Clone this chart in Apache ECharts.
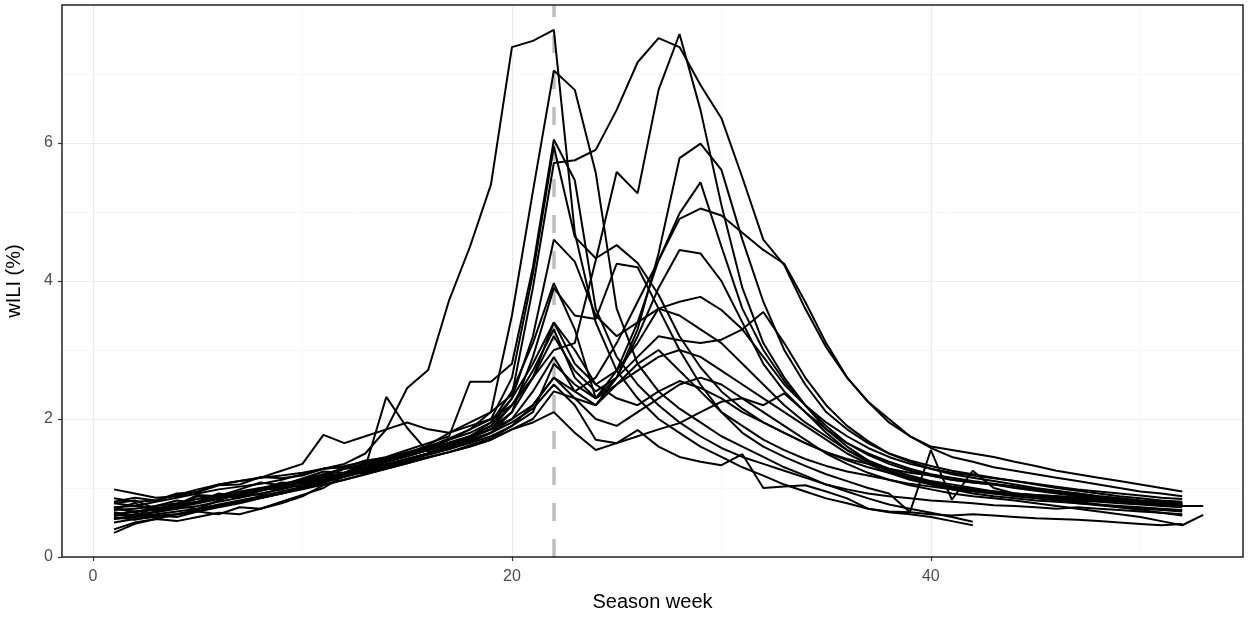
<!DOCTYPE html>
<html>
<head>
<meta charset="utf-8">
<script src="https://cdn.jsdelivr.net/npm/echarts@6/dist/echarts.min.js"></script>
<style>html,body{margin:0;background:#fff}#main{width:1260px;height:617px}</style>
</head>
<body>
<div id="main"></div>
<script>
// wILI (%) par semaine de saison, une liste par saison (semaine 1 = premier element)
var s01 = [0.78,0.74,0.80,0.86,0.92,0.98,1.02,1.06,1.12,1.20,1.28,1.35,1.50,1.85,2.45,2.71,3.72,4.50,5.40,7.39,7.48,7.64,
  4.70,3.40,2.70,2.30,2.00,1.80,1.60,1.45,1.30,1.18,1.05,0.95,0.85,0.78,0.70,0.65,0.62,0.58,0.52,0.46];
var s02 = [0.62,0.66,0.70,0.75,0.80,0.88,0.92,0.98,1.05,1.12,1.20,1.28,1.36,1.42,1.50,1.58,1.70,1.85,2.10,3.50,5.30,7.05,
  6.77,5.57,3.60,2.80,2.40,2.15,1.95,1.75,1.60,1.45,1.30,1.18,1.05,0.95,0.85,0.76,0.70,0.64,0.58,0.51];
var s03 = [0.70,0.78,0.66,0.75,0.88,0.84,0.92,1.00,0.98,1.12,1.16,1.28,1.30,1.40,1.48,1.55,1.62,1.75,1.90,2.20,2.60,
  3.00,3.10,4.30,5.58,5.27,6.77,7.58,6.48,5.10,3.90,3.10,2.60,2.20,1.85,1.60,1.40,1.25,1.15,1.05,0.98,
  0.92,0.88,0.85,0.82,0.80,0.78,0.76,0.74,0.72,0.70,0.68];
var s04 = [0.55,0.58,0.60,0.62,0.66,0.72,0.78,0.85,0.92,1.00,1.08,1.18,1.28,1.38,1.50,1.62,1.80,1.95,2.10,2.35,3.90,
  5.71,5.75,5.90,6.48,7.17,7.52,7.39,6.84,6.36,5.50,4.60,4.23,3.60,3.04,2.60,2.25,2.00,1.75,1.60,1.55,
  1.50,1.45,1.38,1.32,1.25,1.20,1.15,1.10,1.05,1.00,0.95];
var s05 = [0.85,0.80,0.82,0.90,0.98,1.05,1.10,1.15,1.18,1.22,1.28,1.32,1.38,1.45,1.55,1.65,1.75,2.54,2.54,2.80,4.20,
  6.05,5.46,3.60,2.90,2.50,2.20,1.95,1.75,1.58,1.45,1.35,1.25,1.15,1.05,0.98,0.92,0.88,0.85,0.82,0.80,
  0.78,0.75,0.74,0.72,0.70,0.72,0.70,0.68,0.66,0.64,0.62];
var s06 = [0.68,0.70,0.74,0.78,0.84,0.90,0.95,1.00,1.06,1.12,1.20,1.28,1.34,1.42,1.50,1.60,1.72,1.85,2.00,2.60,4.10,
  5.95,4.64,4.33,4.52,4.26,3.80,3.20,2.75,2.40,2.15,1.95,1.80,1.65,1.52,1.42,1.35,1.28,1.22,1.18,1.12,
  1.08,1.05,1.00,0.96,0.92,0.88,0.85,0.82,0.80,0.78,0.76];
var s07 = [0.72,0.64,0.74,0.82,0.78,0.88,0.86,0.96,1.04,1.02,1.15,1.20,1.22,1.30,1.38,1.45,1.52,1.60,1.70,1.85,2.00,
  2.40,2.30,2.20,2.60,3.30,4.40,5.78,5.99,5.61,4.60,3.70,3.00,2.50,2.10,1.85,1.65,1.50,1.40,1.32,1.25,
  1.20,1.15,1.10,1.05,1.00,0.96,0.92,0.88,0.85,0.82,0.80];
var s08 = [0.60,0.62,0.65,0.70,0.74,0.80,0.86,0.92,0.98,1.05,1.12,1.20,1.28,1.35,1.42,1.50,1.58,1.65,1.75,1.90,2.10,
  2.80,2.50,2.30,2.70,3.40,4.30,4.98,5.43,4.50,3.60,3.00,2.55,2.20,1.90,1.65,1.48,1.35,1.25,1.18,1.12,
  1.08,1.05,1.02,0.98,0.95,0.92,0.88,0.85,0.82,0.80,0.78];
var s09 = [0.78,0.82,0.70,0.76,0.90,0.88,0.98,1.08,1.04,1.14,1.24,1.22,1.34,1.42,1.50,1.58,1.66,1.75,1.85,2.00,2.20,
  2.60,2.40,2.60,3.10,3.70,4.30,4.90,5.05,4.95,4.70,4.45,4.25,3.70,3.10,2.60,2.25,1.95,1.75,1.58,1.45,
  1.38,1.30,1.25,1.20,1.15,1.10,1.05,1.00,0.95,0.92,0.88];
var s10 = [0.65,0.60,0.72,0.70,0.80,0.92,0.88,0.98,1.08,1.06,1.18,1.30,1.28,1.40,1.48,1.56,1.65,1.75,1.90,2.30,3.20,
  4.60,4.28,3.50,3.20,3.40,3.60,3.50,3.30,3.10,2.80,2.50,2.20,1.95,1.75,1.55,1.40,1.28,1.18,1.10,1.05,
  1.00,0.95,0.92,0.88,0.85,0.82,0.80,0.78,0.76,0.74,0.72];
var s11 = [0.70,0.66,0.68,0.72,0.78,0.84,0.90,0.96,1.02,1.08,1.15,1.22,1.30,1.38,1.46,1.55,1.64,1.75,1.95,2.40,3.10,
  3.97,3.30,2.30,2.60,3.20,3.90,4.45,4.40,4.00,3.40,2.80,2.40,2.10,1.85,1.65,1.50,1.38,1.28,1.20,1.15,
  1.10,1.06,1.02,0.98,0.94,0.90,0.86,0.83,0.80,0.78,0.76];
var s12 = [0.50,0.55,0.58,0.62,0.68,0.74,0.80,0.86,0.92,1.00,1.08,1.16,1.24,1.32,1.40,1.48,1.56,1.66,1.80,2.10,2.90,
  3.90,3.50,3.45,4.25,4.20,3.60,3.00,2.50,2.10,1.80,1.60,1.45,1.32,1.20,1.10,1.00,0.92,0.65,1.55,0.83,
  1.25,1.00,0.92,0.88,0.84,0.80,0.76,0.72,0.68,0.64,0.60];
var s13 = [0.80,0.86,0.82,0.92,0.94,1.04,1.05,1.16,1.14,1.18,1.28,1.30,1.40,1.44,1.52,1.60,1.70,1.80,1.95,2.30,2.80,
  3.40,2.80,2.50,2.70,3.10,3.60,3.70,3.77,3.58,3.30,2.90,2.50,2.20,1.95,1.75,1.58,1.45,1.35,1.28,1.22,
  1.18,1.14,1.10,1.06,1.02,0.98,0.95,0.92,0.89,0.86,0.84];
var s14 = [0.62,0.58,0.66,0.74,0.70,0.82,0.92,0.90,1.00,1.10,1.10,1.22,1.34,1.38,1.46,1.55,1.64,1.74,1.86,2.10,2.60,
  3.20,2.70,2.40,2.60,2.90,3.20,3.14,3.10,3.15,3.30,3.55,3.10,2.60,2.20,1.90,1.68,1.50,1.38,1.28,1.20,
  1.15,1.10,1.05,1.00,0.96,0.92,0.88,0.85,0.82,0.80,0.78];
var s15 = [0.58,0.54,0.60,0.58,0.66,0.62,0.72,0.70,0.80,0.90,1.00,1.18,1.26,1.34,1.42,1.50,1.58,1.68,1.80,2.00,2.40,
  2.90,2.40,2.20,2.50,2.70,2.90,3.00,2.90,2.70,2.50,2.30,2.10,1.90,1.70,1.50,1.35,1.22,1.12,1.05,1.00,
  0.96,0.92,0.88,0.85,0.82,0.78,0.75,0.72,0.70,0.68,0.66];
var s16 = [0.72,0.74,0.70,0.74,0.80,0.86,0.92,0.98,1.04,1.10,1.16,1.22,1.30,2.32,1.87,1.52,1.60,1.70,1.80,1.95,2.15,
  2.50,2.20,1.70,1.65,1.75,1.85,1.94,2.10,2.25,2.30,2.20,2.37,2.10,1.80,1.55,1.38,1.25,1.15,1.08,1.02,
  0.98,0.95,0.92,0.90,0.88,0.86,0.84,0.82,0.80,0.78,0.76];
var s17 = [0.40,0.50,0.55,0.52,0.58,0.64,0.62,0.70,0.78,0.88,1.04,1.12,1.20,1.28,1.36,1.44,1.52,1.60,1.70,1.85,1.95,
  2.10,1.80,1.55,1.65,1.84,1.60,1.45,1.38,1.33,1.49,1.00,1.02,1.04,0.95,0.85,0.70,0.66,0.65,0.62,0.60,
  0.62,0.60,0.58,0.56,0.55,0.54,0.52,0.50,0.48,0.46,0.48];
var s18 = [0.55,0.60,0.62,0.66,0.70,0.76,0.82,0.88,0.95,1.02,1.10,1.18,1.26,1.34,1.42,1.50,1.60,1.72,1.85,2.20,2.70,
  3.30,2.60,2.30,2.50,2.80,3.00,2.70,2.40,2.10,1.90,1.70,1.55,1.42,1.32,1.24,1.18,1.12,1.06,1.02,0.98,
  0.95,0.92,0.90,0.88,0.86,0.84,0.82,0.80,0.78,0.76,0.74,0.74];
var s19 = [0.35,0.48,0.55,0.62,0.68,0.74,0.80,0.86,0.92,0.98,1.05,1.12,1.20,1.28,1.36,1.44,1.52,1.62,1.72,1.90,2.20,
  2.60,2.30,2.00,1.90,2.10,2.30,2.50,2.60,2.50,2.30,2.10,1.90,1.70,1.50,1.35,1.22,1.12,1.04,0.98,0.92,
  0.88,0.85,0.82,0.78,0.74,0.70,0.66,0.62,0.58,0.52,0.46,0.61];
var s20 = [0.98,0.92,0.86,0.88,0.95,1.05,1.10,1.15,1.25,1.35,1.77,1.65,1.75,1.85,1.95,1.85,1.80,1.90,2.00,2.20,2.60,
  3.40,3.00,2.50,2.30,2.20,2.40,2.55,2.45,2.30,2.10,1.95,1.80,1.65,1.52,1.40,1.30,1.22,1.15,1.08,1.02,
  0.98,0.95,0.92,0.90,0.88,0.86,0.84,0.82,0.80,0.78,0.76];

var seasons = [s01,s02,s03,s04,s05,s06,s07,s08,s09,s10,s11,s12,s13,s14,s15,s16,s17,s18,s19,s20];
var currentWeek = 22;
var xTicks = [0, 20, 40];
var yTicks = [0, 2, 4, 6];

var font = '"Liberation Sans", Arial, sans-serif';
var myChart = echarts.init(document.getElementById('main'));

var series = seasons.map(function (vals) {
    return {
        type: 'line',
        xAxisIndex: 0,
        yAxisIndex: 0,
        data: vals.map(function (v, i) { return [i + 1, v]; }),
        showSymbol: false,
        symbol: 'none',
        silent: true,
        z: 3,
        lineStyle: { color: '#000', width: 2 },
        itemStyle: { color: '#000' }
    };
});
// ligne pointillee de la semaine courante
series.push({
    type: 'line',
    xAxisIndex: 0,
    yAxisIndex: 0,
    data: [],
    silent: true,
    markLine: {
        silent: true,
        symbol: 'none',
        z: 1,
        label: { show: false },
        lineStyle: { color: '#BEBEBE', width: 3.5, type: [18, 18] },
        data: [{ xAxis: currentWeek }]
    }
});

var option = {
    animation: false,
    backgroundColor: '#fff',
    grid: [
        { left: 62, right: 17, top: 5, bottom: 60, outerBoundsMode: 'none', containLabel: false,
          show: true, borderColor: '#222', borderWidth: 1.5, backgroundColor: 'transparent', z: 10 },
        // grille pour les graduations x (0 a gauche a x=93)
        { left: 93, width: 1256.8, top: 5, bottom: 60, outerBoundsMode: 'none', containLabel: false }
    ],
    xAxis: [{
        gridIndex: 0,
        type: 'value',
        min: -1.48,
        max: 54.9,
        axisLine: { show: false, onZero: false },
        axisTick: { show: false },
        axisLabel: { show: false },
        splitLine: { show: false },
        name: 'Season week',
        nameLocation: 'middle',
        nameGap: 35,
        nameTextStyle: { color: '#000', fontSize: 20, fontFamily: font }
    }, {
        gridIndex: 1,
        type: 'value',
        min: 0,
        max: 60,
        interval: 20,
        axisLine: { show: false, onZero: false },
        axisTick: { show: true, length: 4, customValues: xTicks, lineStyle: { color: '#333', width: 1.2 } },
        axisLabel: { color: '#4D4D4D', fontSize: 16, margin: 12, fontFamily: font, showMaxLabel: false },
        splitLine: { show: true, lineStyle: { color: '#EBEBEB', width: 1.2 } },
        minorTick: { show: false, splitNumber: 2 },
        minorSplitLine: { show: true, lineStyle: { color: '#F3F3F3', width: 0.7 } }
    }],
    yAxis: [{
        gridIndex: 0,
        type: 'value',
        min: 0,
        max: 8,
        interval: 2,
        axisLine: { show: false, onZero: false },
        axisTick: { show: true, length: 4, customValues: yTicks, lineStyle: { color: '#333', width: 1.2 } },
        axisLabel: { color: '#4D4D4D', fontSize: 16, margin: 9, fontFamily: font, showMaxLabel: false },
        splitLine: { show: true, lineStyle: { color: '#EBEBEB', width: 1.2 } },
        minorTick: { show: false, splitNumber: 2 },
        minorSplitLine: { show: true, lineStyle: { color: '#F3F3F3', width: 0.7 } },
        name: 'wILI (%)',
        nameLocation: 'middle',
        nameGap: 38,
        nameRotate: 90,
        nameTextStyle: { color: '#000', fontSize: 20, fontFamily: font }
    }, {
        gridIndex: 1,
        type: 'value',
        min: 0,
        max: 8,
        show: false,
        axisLine: { show: false, onZero: false },
        axisTick: { show: false },
        axisLabel: { show: false },
        splitLine: { show: false }
    }],
    series: series
};
myChart.setOption(option);
</script>
</body>
</html>
